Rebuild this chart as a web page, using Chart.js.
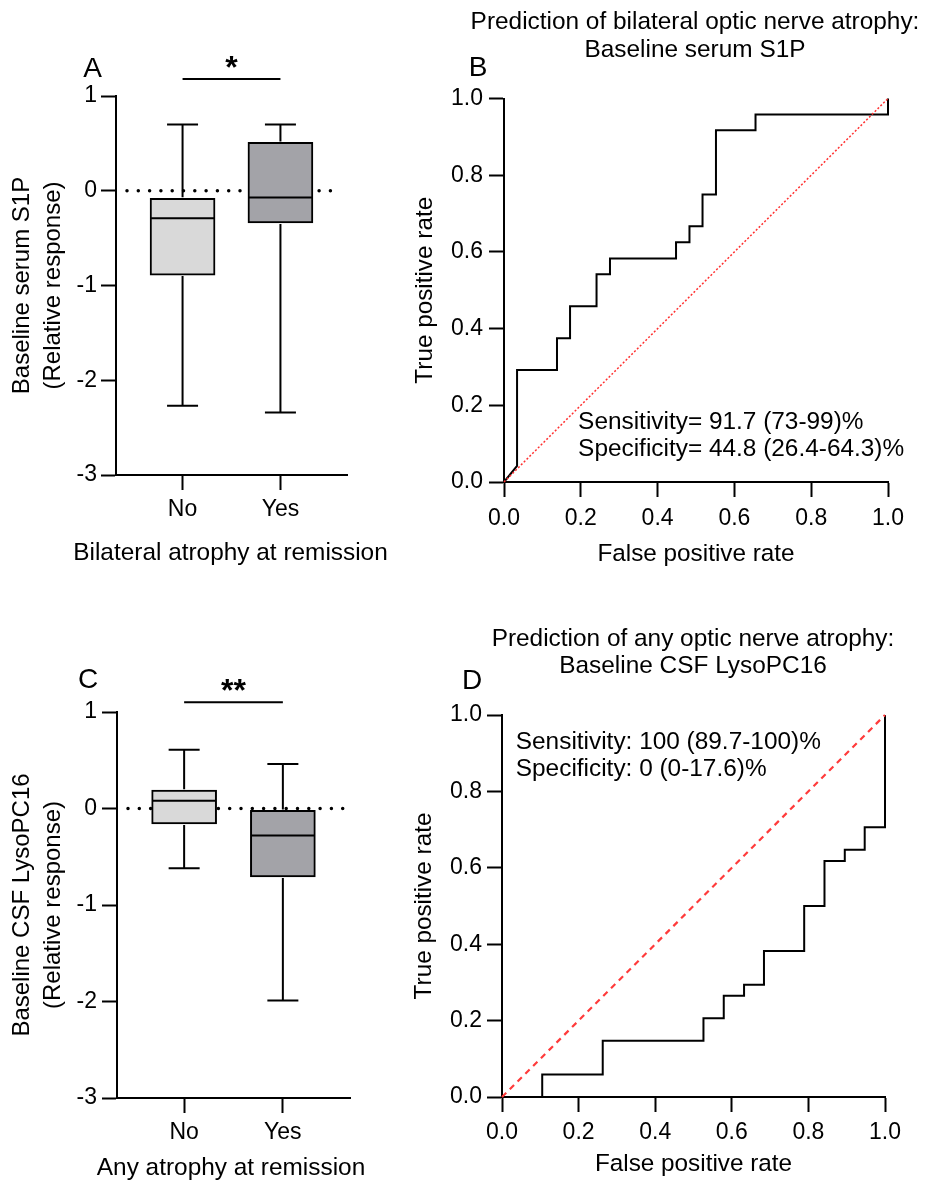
<!DOCTYPE html>
<html>
<head>
<meta charset="utf-8">
<script src="https://cdn.jsdelivr.net/npm/chart.js@4.4.1/dist/chart.umd.min.js"></script>
<style>
  html, body { margin: 0; padding: 0; background: #fff; }
  #wrap { position: relative; width: 925px; height: 1184px; }
  canvas { position: absolute; }
</style>
</head>
<body>
<div id="wrap">
  <canvas id="chartA" width="400" height="590" style="left:0;top:0"></canvas>
  <canvas id="chartB" width="525" height="590" style="left:400px;top:0"></canvas>
  <canvas id="chartC" width="400" height="564" style="left:0;top:620px"></canvas>
  <canvas id="chartD" width="525" height="564" style="left:400px;top:620px"></canvas>
</div>
<script>
const FONT = "'Liberation Sans', Arial, Helvetica, sans-serif";
Chart.defaults.font.family = FONT;
Chart.defaults.font.size = 23;
Chart.defaults.color = '#000';

// box plots (A, C)
const groups = ['No', 'Yes'];
const boxTicks = [-3, -2, -1, 0, 1];
const boxColors = ['#d9d9d9', '#a3a3a8'];

// A: baseline serum S1P vs bilateral atrophy
const s1pMin = [-2.27, -2.34];
const s1pQ1 = [-0.89, -0.34];
const s1pMedian = [-0.29, -0.07];
const s1pQ3 = [-0.08, 0.51];
const s1pMax = [0.70, 0.70];

// C: baseline CSF LysoPC16 vs any atrophy
const lysoMin = [-0.62, -1.99];
const lysoQ1 = [-0.16, -0.71];
const lysoMedian = [0.08, -0.28];
const lysoQ3 = [0.19, -0.02];
const lysoMax = [0.61, 0.46];

// ROC curves (B, D)
const rocTicks = [0, 0.2, 0.4, 0.6, 0.8, 1.0];
const rocBFpr = [0, 0.034, 0.034, 0.138, 0.138, 0.172, 0.172, 0.241, 0.241, 0.276, 0.276, 0.448, 0.448, 0.483, 0.483, 0.517, 0.517, 0.552, 0.552, 0.655, 0.655, 1.0, 1.0];
const rocBTpr = [0, 0.042, 0.292, 0.292, 0.375, 0.375, 0.458, 0.458, 0.542, 0.542, 0.583, 0.583, 0.625, 0.625, 0.667, 0.667, 0.750, 0.750, 0.917, 0.917, 0.958, 0.958, 1.0];
const rocDFpr = [0, 0.105, 0.105, 0.263, 0.263, 0.526, 0.526, 0.579, 0.579, 0.632, 0.632, 0.684, 0.684, 0.789, 0.789, 0.842, 0.842, 0.895, 0.895, 0.947, 0.947, 1.0, 1.0];
const rocDTpr = [0, 0, 0.059, 0.059, 0.147, 0.147, 0.206, 0.206, 0.265, 0.265, 0.294, 0.294, 0.382, 0.382, 0.5, 0.5, 0.618, 0.618, 0.647, 0.647, 0.706, 0.706, 1.0];

function textPlugin(items) {
    return {
        id: 'panelText',
        afterDraw(chart) {
            const ctx = chart.ctx;
            ctx.save();
            ctx.fillStyle = '#000';
            ctx.textBaseline = 'alphabetic';
            items.forEach(t => {
                ctx.font = t.font;
                ctx.textAlign = t.align || 'left';
                let x = t.x, y = t.y;
                if (t.data) {
                    x = chart.scales.x.getPixelForValue(t.x);
                    y = chart.scales.y.getPixelForValue(t.y) + (t.dy || 0);
                }
                ctx.fillText(t.text, x, y);
            });
            ctx.restore();
        }
    };
}

function boxPlugin(stats, sigAt, sig) {
    return {
        id: 'boxPlot',
        beforeDatasetsDraw(chart) {
            // dotted zero line
            const {ctx, chartArea, scales: {y}} = chart;
            const py = y.getPixelForValue(0);
            ctx.save();
            ctx.setLineDash([0, 11.3]);
            ctx.lineCap = 'round';
            ctx.lineWidth = 3.5;
            ctx.strokeStyle = '#000';
            ctx.beginPath();
            ctx.moveTo(chartArea.left + 11, py);
            ctx.lineTo(chartArea.right - 6, py);
            ctx.stroke();
            ctx.restore();
        },
        afterDatasetsDraw(chart) {
            const {ctx, scales: {x, y}} = chart;
            const bars = chart.getDatasetMeta(0).data;
            const cap = 15.5;
            ctx.save();
            ctx.strokeStyle = '#000';
            ctx.lineWidth = 2;
            ctx.beginPath();
            groups.forEach((g, i) => {
                const cx = x.getPixelForValue(i);
                const half = bars[i].width / 2 - 1;
                const m = y.getPixelForValue(stats.median[i]);
                ctx.moveTo(cx - half, m);
                ctx.lineTo(cx + half, m);
                const top = y.getPixelForValue(stats.max[i]);
                ctx.moveTo(cx, y.getPixelForValue(stats.q3[i]) - 1);
                ctx.lineTo(cx, top);
                ctx.moveTo(cx - cap, top);
                ctx.lineTo(cx + cap, top);
                const bot = y.getPixelForValue(stats.min[i]);
                ctx.moveTo(cx, y.getPixelForValue(stats.q1[i]) + 1);
                ctx.lineTo(cx, bot);
                ctx.moveTo(cx - cap, bot);
                ctx.lineTo(cx + cap, bot);
            });
            // significance bar
            const sy = y.getPixelForValue(sigAt);
            ctx.moveTo(x.getPixelForValue(0), sy);
            ctx.lineTo(x.getPixelForValue(1), sy);
            ctx.stroke();
            ctx.fillStyle = '#000';
            ctx.font = 'bold 32px ' + FONT;
            ctx.textAlign = 'center';
            ctx.textBaseline = 'alphabetic';
            ctx.fillText(sig, (x.getPixelForValue(0) + x.getPixelForValue(1)) / 2, sy - 1);
            ctx.restore();
        }
    };
}

const axisGrid = { drawOnChartArea: false, tickLength: 15, tickWidth: 2, tickColor: '#000', offset: false };
const axisBorder = { color: '#000', width: 2 };

function boxChart(id, stats, cfg) {
    return new Chart(document.getElementById(id), {
        type: 'bar',
        data: {
            datasets: [{
                data: groups.map((g, i) => ({x: i, y: [stats.q1[i], stats.q3[i]]})),
                backgroundColor: boxColors,
                borderColor: '#000',
                borderWidth: 2,
                borderSkipped: false,
                barThickness: 65
            }]
        },
        plugins: [boxPlugin(stats, cfg.sigAt, cfg.sig), textPlugin(cfg.texts)],
        options: {
            responsive: false,
            animation: false,
            events: [],
            layout: { padding: cfg.padding },
            plugins: { legend: { display: false }, tooltip: { enabled: false } },
            scales: {
                x: {
                    type: 'linear', min: -0.68, max: 1.68, offset: false,
                    afterBuildTicks: s => { s.ticks = groups.map((g, i) => ({value: i})); },
                    afterFit: s => { s.height = cfg.xHeight; s.paddingLeft = 0; s.paddingRight = 0; },
                    ticks: { callback: v => groups[v], padding: cfg.xTickPad, maxRotation: 0, autoSkip: false },
                    grid: axisGrid,
                    border: axisBorder
                },
                y: {
                    min: -3, max: 1,
                    afterBuildTicks: s => { s.ticks = boxTicks.map(v => ({value: v})); },
                    afterFit: s => { s.width = cfg.yWidth; s.paddingTop = 0; s.paddingBottom = 0; },
                    ticks: { padding: cfg.yTickPad },
                    grid: axisGrid,
                    border: axisBorder,
                    title: {
                        display: true, text: cfg.yTitle,
                        font: { size: 24, lineHeight: 1.29 },
                        padding: { top: 6.5, bottom: 0 }
                    }
                }
            }
        }
    });
}

function rocChart(id, fpr, tpr, cfg) {
    return new Chart(document.getElementById(id), {
        type: 'scatter',
        data: {
            datasets: [{
                data: [{x: 0, y: 0}, {x: 1, y: 1}],
                showLine: true,
                borderColor: cfg.diagColor,
                borderWidth: cfg.diagWidth,
                borderDash: cfg.diagDash,
                pointRadius: 0,
                clip: false,
                order: 0
            }, {
                data: fpr.map((v, i) => ({x: v, y: tpr[i]})),
                showLine: true,
                borderColor: '#000',
                borderWidth: 2,
                pointRadius: 0,
                clip: false,
                order: 1
            }]
        },
        plugins: [textPlugin(cfg.texts)],
        options: {
            responsive: false,
            animation: false,
            events: [],
            layout: { padding: cfg.padding },
            plugins: { legend: { display: false }, tooltip: { enabled: false } },
            scales: {
                x: {
                    type: 'linear', min: 0, max: 1,
                    afterBuildTicks: s => { s.ticks = rocTicks.map(v => ({value: v})); },
                    afterFit: s => { s.height = cfg.xHeight; s.paddingLeft = 0; s.paddingRight = 0; },
                    ticks: { callback: v => v.toFixed(1), padding: cfg.xTickPad, maxRotation: 0, autoSkip: false },
                    grid: axisGrid,
                    border: axisBorder,
                    title: {
                        display: true, text: 'False positive rate', font: { size: 24.3 },
                        padding: { top: 0, bottom: cfg.xTitlePad }
                    }
                },
                y: {
                    type: 'linear', min: 0, max: 1,
                    afterBuildTicks: s => { s.ticks = rocTicks.map(v => ({value: v})); },
                    afterFit: s => { s.width = cfg.yWidth; s.paddingTop = 0; s.paddingBottom = 0; },
                    ticks: { callback: v => v.toFixed(1), padding: cfg.yTickPad },
                    grid: axisGrid,
                    border: axisBorder,
                    title: {
                        display: true, text: 'True positive rate', font: { size: 24.3 },
                        padding: { top: cfg.yTitlePad, bottom: 0 }
                    }
                }
            }
        }
    });
}

const letterFont = '28px ' + FONT;
const titleFont = '24.4px ' + FONT;
const noteFont = '24.4px ' + FONT;

boxChart('chartA',
    { min: s1pMin, q1: s1pQ1, median: s1pMedian, q3: s1pQ3, max: s1pMax },
    {
        padding: { top: 96, right: 53, left: 0, bottom: 0 },
        xHeight: 115, yWidth: 116, xTickPad: 6, yTickPad: 4,
        yTitle: ['Baseline serum S1P', '(Relative response)'],
        sigAt: 1.18, sig: '*',
        texts: [
            { text: 'A', x: 92.5, y: 76.5, font: letterFont, align: 'center' },
            { text: 'Bilateral atrophy at remission', x: 230.5, y: 560, font: titleFont, align: 'center' }
        ]
    });

rocChart('chartB', rocBFpr, rocBTpr, {
    padding: { top: 98.5, right: 37, left: 0, bottom: 0 },
    xHeight: 108, yWidth: 104, xTickPad: 8, yTickPad: 6, xTitlePad: 21.6, yTitlePad: 10.5,
    diagColor: '#ff3030', diagWidth: 1.5, diagDash: [2, 2],
    texts: [
        { text: 'B', x: 78, y: 75.5, font: letterFont, align: 'center' },
        { text: 'Prediction of bilateral optic nerve atrophy:', x: 295, y: 29, font: titleFont, align: 'center' },
        { text: 'Baseline serum S1P', x: 295, y: 56.5, font: titleFont, align: 'center' },
        { text: 'Sensitivity= 91.7 (73-99)%', x: 0.193, y: 0.138, data: true, font: noteFont },
        { text: 'Specificity= 44.8 (26.4-64.3)%', x: 0.193, y: 0.138, dy: 27, data: true, font: noteFont }
    ]
});

boxChart('chartC',
    { min: lysoMin, q1: lysoQ1, median: lysoMedian, q3: lysoQ3, max: lysoMax },
    {
        padding: { top: 92, right: 50, left: 0, bottom: 0 },
        xHeight: 86, yWidth: 117, xTickPad: 6, yTickPad: 5,
        yTitle: ['Baseline CSF LysoPC16', '(Relative response)'],
        sigAt: 1.10, sig: '**',
        texts: [
            { text: 'C', x: 88, y: 67.5, font: letterFont, align: 'center' },
            { text: 'Any atrophy at remission', x: 231, y: 555, font: titleFont, align: 'center' }
        ]
    });

rocChart('chartD', rocDFpr, rocDTpr, {
    padding: { top: 95, right: 40, left: 0, bottom: 0 },
    xHeight: 87, yWidth: 102, xTickPad: 7, yTickPad: 5, xTitlePad: 5.6, yTitlePad: 9.5,
    diagColor: '#ff3b3b', diagWidth: 2.2, diagDash: [6, 5],
    texts: [
        { text: 'D', x: 72, y: 68.5, font: letterFont, align: 'center' },
        { text: 'Prediction of any optic nerve atrophy:', x: 293, y: 25.7, font: titleFont, align: 'center' },
        { text: 'Baseline CSF LysoPC16', x: 293, y: 53, font: titleFont, align: 'center' },
        { text: 'Sensitivity: 100 (89.7-100)%', x: 0.036, y: 0.910, data: true, font: noteFont },
        { text: 'Specificity: 0 (0-17.6)%', x: 0.036, y: 0.910, dy: 26.7, data: true, font: noteFont }
    ]
});
</script>
</body>
</html>
